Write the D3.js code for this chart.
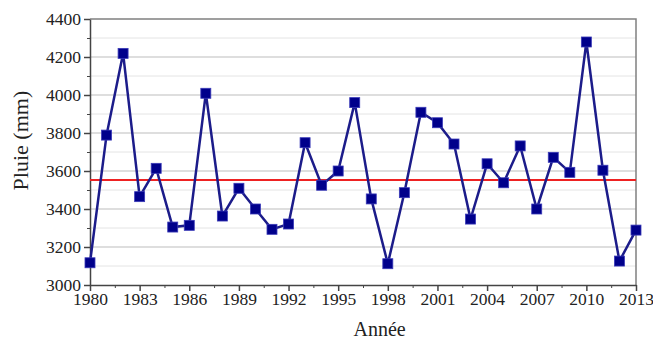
<!DOCTYPE html>
<html>
  <head>
    <meta charset="utf-8" />
    <style>
      body {
        margin: 0;
        background: #fff;
        font-family: "Liberation Serif", "DejaVu Serif", serif;
      }
      svg {
        display: block;
      }
      .tick text {
        font-size: 17.5px;
        fill: #222;
      }
      .axis-label {
        fill: #222;
      }
    </style>
  </head>
  <body>
    <svg width="653" height="341"></svg>
    <script src="https://d3js.org/d3.v7.min.js"></script>
    <script>
      // annual rainfall
      let years = [
        1980, 1981, 1982, 1983, 1984, 1985, 1986, 1987, 1988, 1989, 1990,
        1991, 1992, 1993, 1994, 1995, 1996, 1997, 1998, 1999, 2000, 2001,
        2002, 2003, 2004, 2005, 2006, 2007, 2008, 2009, 2010, 2011, 2012,
        2013,
      ];
      let rain = [
        3117, 3789, 4219, 3465, 3614, 3305, 3314, 4009, 3363, 3509, 3400,
        3293, 3321, 3749, 3525, 3600, 3960, 3453, 3112, 3486, 3909, 3854,
        3742, 3347, 3638, 3538, 3732, 3400, 3672, 3593, 4279, 3604, 3126,
        3289,
      ];
      let meanRain = 3553;

      let yTicks = [3000, 3200, 3400, 3600, 3800, 4000, 4200, 4400];
      let xTicks = [
        1980, 1983, 1986, 1989, 1992, 1995, 1998, 2001, 2004, 2007, 2010,
        2013,
      ];

      let data = years.map((y, i) => ({ year: y, value: rain[i] }));

      let margin = { top: 19, right: 17, bottom: 56, left: 90 };
      let width = 653;
      let height = 341;

      let svg = d3.select("svg");

      let x = d3
        .scaleLinear()
        .domain([1980, 2013])
        .range([margin.left, width - margin.right]);

      let y = d3
        .scaleLinear()
        .domain([3000, 4400])
        .range([height - margin.bottom, margin.top]);

      // horizontal grid, lighter at the hundreds
      svg
        .append("g")
        .selectAll("line")
        .data(d3.range(3100, 4400, 100))
        .join("line")
        .attr("x1", x(1980))
        .attr("x2", x(2013))
        .attr("y1", (d) => y(d))
        .attr("y2", (d) => y(d))
        .attr("stroke", (d) => (d % 200 == 0 ? "#bdbdbd" : "#e4e4e4"))
        .attr("stroke-width", 1);

      // frame top and right
      svg
        .append("path")
        .attr("d", `M${x(1980)},${y(4400)}H${x(2013)}V${y(3000)}`)
        .attr("fill", "none")
        .attr("stroke", "#808080")
        .attr("stroke-width", 1.5);

      // minor ticks
      let yMinor = d3
        .axisLeft(y)
        .tickValues(d3.range(3100, 4400, 200))
        .tickSize(3)
        .tickFormat("");
      svg
        .append("g")
        .attr("transform", `translate(${margin.left},0)`)
        .call(yMinor)
        .call((g) => g.select(".domain").remove())
        .selectAll("line")
        .attr("stroke", "#444");

      let xMinor = d3
        .axisBottom(x)
        .tickValues(d3.range(1981.5, 2013, 3))
        .tickSize(3)
        .tickFormat("");
      svg
        .append("g")
        .attr("transform", `translate(0,${height - margin.bottom})`)
        .call(xMinor)
        .call((g) => g.select(".domain").remove())
        .selectAll("line")
        .attr("stroke", "#444");

      let yAxis = d3
        .axisLeft(y)
        .tickValues(yTicks)
        .tickSize(6)
        .tickSizeOuter(0)
        .tickPadding(3)
        .tickFormat(d3.format("d"));
      let yg = svg
        .append("g")
        .attr("transform", `translate(${margin.left},0)`)
        .call(yAxis);
      yg.selectAll("line, .domain").attr("stroke", "#444").attr("stroke-width", 1.5);
      yg.selectAll("text").attr("font-family", "Liberation Serif");

      let xAxis = d3
        .axisBottom(x)
        .tickValues(xTicks)
        .tickSize(6)
        .tickSizeOuter(0)
        .tickPadding(2)
        .tickFormat(d3.format("d"));
      let xg = svg
        .append("g")
        .attr("transform", `translate(0,${height - margin.bottom})`)
        .call(xAxis);
      xg.selectAll("line, .domain").attr("stroke", "#444").attr("stroke-width", 1.5);
      xg.selectAll("text").attr("font-family", "Liberation Serif");

      // mean line
      svg
        .append("line")
        .attr("x1", x(1980))
        .attr("x2", x(2013))
        .attr("y1", y(meanRain))
        .attr("y2", y(meanRain))
        .attr("stroke", "#ee2222")
        .attr("stroke-width", 2);

      let line = d3
        .line()
        .x((d) => x(d.year))
        .y((d) => y(d.value));

      let plot = svg.append("g");

      plot
        .append("path")
        .datum(data)
        .attr("d", line)
        .attr("fill", "none")
        .attr("stroke", "#1c1c8a")
        .attr("stroke-width", 2.5);

      let s = 10;
      plot
        .selectAll("rect")
        .data(data)
        .join("rect")
        .attr("x", (d) => x(d.year) - s / 2)
        .attr("y", (d) => y(d.value) - s / 2)
        .attr("width", s)
        .attr("height", s)
        .attr("fill", "#00008b")
        .attr("stroke", "#3a3ab8")
        .attr("stroke-width", 0.8);

      // axis titles
      svg
        .append("text")
        .attr("class", "axis-label")
        .attr("transform", `translate(28,${y(3760)}) rotate(-90)`)
        .attr("text-anchor", "middle")
        .attr("font-size", 22)
        .text("Pluie (mm)");

      svg
        .append("text")
        .attr("class", "axis-label")
        .attr("x", x(1997.5))
        .attr("y", 336)
        .attr("text-anchor", "middle")
        .attr("font-size", 20)
        .text("Année");
    </script>
  </body>
</html>
